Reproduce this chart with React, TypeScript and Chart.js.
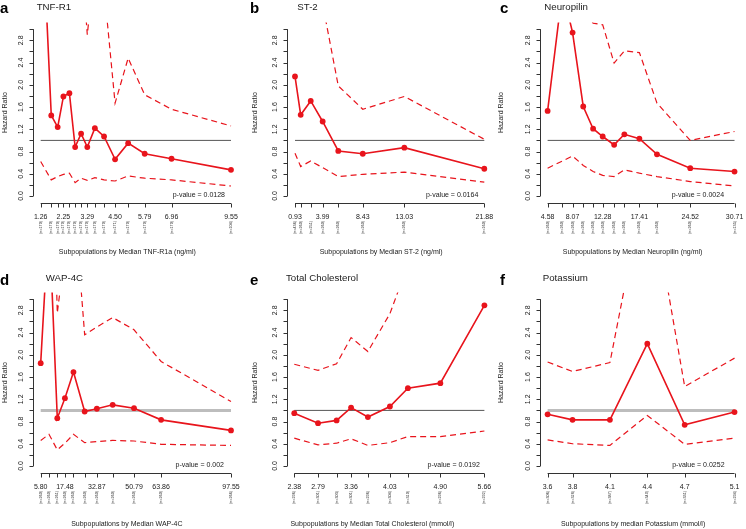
import React, { useEffect, useRef } from 'react';
import { Chart, registerables } from 'chart.js';

Chart.register(...registerables);

// ---------------- DATA ----------------
const yTickValues = [0, 0.2, 0.4, 0.6, 0.8, 1.0, 1.2, 1.4, 1.6, 1.8, 2.0, 2.2, 2.4, 2.6, 2.8, 3.0];
const yTickLabels = ['0.0', '', '0.4', '', '0.8', '', '1.2', '', '1.6', '', '2.0', '', '2.4', '', '2.8', ''];

// a: TNF-R1
const aX = [1.26, 1.72, 2.0, 2.25, 2.51, 2.76, 3.02, 3.29, 3.62, 4.02, 4.5, 5.07, 5.79, 6.96, 9.55];
const aHR = [5.6, 1.45, 1.24, 1.79, 1.85, 0.88, 1.12, 0.88, 1.22, 1.07, 0.66, 0.95, 0.76, 0.67, 0.47];
const aUpper = [20, 8, 6, 7, 9, 6, 4.4, 2.9, 4.2, 3.74, 1.67, 2.48, 1.82, 1.56, 1.26];
const aLower = [0.62, 0.29, 0.35, 0.39, 0.41, 0.24, 0.32, 0.28, 0.33, 0.29, 0.27, 0.36, 0.32, 0.29, 0.18];
const aXLabels = ['1.26', '', '', '2.25', '', '', '', '3.29', '', '', '4.50', '', '5.79', '6.96', '9.55'];
const aN = ['(n=170)', '(n=170)', '(n=170)', '(n=170)', '(n=170)', '(n=170)', '(n=170)', '(n=170)', '(n=170)', '(n=170)', '(n=171)', '(n=170)', '(n=170)', '(n=170)', '(n=104)'];

// b: ST-2
const bX = [0.93, 1.56, 2.67, 3.99, 5.72, 8.43, 13.03, 21.88];
const bHR = [2.15, 1.46, 1.71, 1.34, 0.81, 0.76, 0.87, 0.49];
const bUpper = [8, 6, 7, 3.45, 1.98, 1.56, 1.79, 1.02];
const bLower = [0.77, 0.53, 0.63, 0.51, 0.35, 0.39, 0.43, 0.25];
const bXLabels = ['0.93', '', '', '3.99', '', '8.43', '13.03', '21.88'];
const bN = ['(n=436)', '(n=260)', '(n=251)', '(n=260)', '(n=260)', '(n=260)', '(n=260)', '(n=160)'];

// c: Neuropilin
const cX = [4.58, 6.65, 8.07, 9.56, 10.94, 12.28, 13.88, 15.31, 17.41, 19.87, 24.52, 30.71];
const cHR = [1.53, 3.7, 2.94, 1.61, 1.21, 1.07, 0.92, 1.11, 1.03, 0.75, 0.5, 0.44];
const cUpper = [6, 12, 9, 3.4, 3.11, 3.08, 2.39, 2.61, 2.58, 1.67, 1.0, 1.16];
const cLower = [0.5, 0.63, 0.72, 0.55, 0.44, 0.37, 0.35, 0.47, 0.41, 0.35, 0.26, 0.18];
const cXLabels = ['4.58', '', '8.07', '', '', '12.28', '', '', '17.41', '', '24.52', '30.71'];
const cN = ['(n=260)', '(n=260)', '(n=260)', '(n=260)', '(n=260)', '(n=260)', '(n=260)', '(n=260)', '(n=260)', '(n=260)', '(n=260)', '(n=135)'];

// d: WAP-4C
const dX = [5.8, 9.8, 13.8, 17.48, 21.6, 27.0, 32.87, 40.5, 50.79, 63.86, 97.55];
const dHR = [1.85, 4.5, 0.86, 1.22, 1.69, 0.98, 1.03, 1.1, 1.04, 0.83, 0.64];
const dUpper = [9, 8.1, 2.75, 3.86, 4.93, 2.36, 2.5, 2.67, 2.45, 1.88, 1.16];
const dLower = [0.46, 0.57, 0.29, 0.41, 0.57, 0.42, 0.44, 0.46, 0.45, 0.39, 0.37];
const dXLabels = ['5.80', '', '', '17.48', '', '', '32.87', '', '50.79', '63.86', '97.55'];
const dN = ['(n=260)', '(n=260)', '(n=261)', '(n=260)', '(n=260)', '(n=260)', '(n=260)', '(n=260)', '(n=260)', '(n=260)', '(n=266)'];

// e: Total Cholesterol
const eX = [2.38, 2.79, 3.11, 3.36, 3.65, 4.03, 4.34, 4.9, 5.66];
const eHR = [0.95, 0.77, 0.82, 1.05, 0.88, 1.07, 1.4, 1.49, 2.89];
const eUpper = [1.83, 1.72, 1.84, 2.31, 2.06, 2.74, 3.62, 6, 9];
const eLower = [0.5, 0.38, 0.41, 0.49, 0.37, 0.42, 0.53, 0.53, 0.63];
const eXLabels = ['2.38', '2.79', '', '3.36', '', '4.03', '', '4.90', '5.66'];
const eN = ['(n=296)', '(n=301)', '(n=303)', '(n=301)', '(n=296)', '(n=304)', '(n=310)', '(n=296)', '(n=292)'];

// f: Potassium
const fX = [3.6, 3.8, 4.1, 4.4, 4.7, 5.1];
const fHR = [0.93, 0.83, 0.83, 2.2, 0.74, 0.97];
const fUpper = [1.87, 1.7, 1.86, 5.3, 1.43, 1.94];
const fLower = [0.47, 0.4, 0.37, 0.91, 0.39, 0.5];
const fXLabels = ['3.6', '3.8', '4.1', '4.4', '4.7', '5.1'];
const fN = ['(n=306)', '(n=328)', '(n=387)', '(n=349)', '(n=331)', '(n=294)'];

type PanelDef = {
  letter: string;
  title: string;
  xTitle: string;
  pValue: string;
  x: number[];
  hr: number[];
  upper: number[];
  lower: number[];
  xLabels: string[];
  n: string[];
  lightRef: boolean;
};

const PANELS: PanelDef[] = [
  { letter: 'a', title: 'TNF-R1', xTitle: 'Subpopulations by Median TNF-R1a (ng/ml)', pValue: 'p-value = 0.0128', x: aX, hr: aHR, upper: aUpper, lower: aLower, xLabels: aXLabels, n: aN, lightRef: false },
  { letter: 'b', title: 'ST-2', xTitle: 'Subpopulations by Median ST-2 (ng/ml)', pValue: 'p-value = 0.0164', x: bX, hr: bHR, upper: bUpper, lower: bLower, xLabels: bXLabels, n: bN, lightRef: false },
  { letter: 'c', title: 'Neuropilin', xTitle: 'Subpopulations by Median Neuropilin (ng/ml)', pValue: 'p-value = 0.0024', x: cX, hr: cHR, upper: cUpper, lower: cLower, xLabels: cXLabels, n: cN, lightRef: false },
  { letter: 'd', title: 'WAP-4C', xTitle: 'Subpopulations by Median WAP-4C', pValue: 'p-value = 0.002', x: dX, hr: dHR, upper: dUpper, lower: dLower, xLabels: dXLabels, n: dN, lightRef: true },
  { letter: 'e', title: 'Total Cholesterol', xTitle: 'Subpopulations by Median Total Cholesterol (mmol/l)', pValue: 'p-value = 0.0192', x: eX, hr: eHR, upper: eUpper, lower: eLower, xLabels: eXLabels, n: eN, lightRef: false },
  { letter: 'f', title: 'Potassium', xTitle: 'Subpopulations by median Potassium (mmol/l)', pValue: 'p-value = 0.0252', x: fX, hr: fHR, upper: fUpper, lower: fLower, xLabels: fXLabels, n: fN, lightRef: true },
];

// ---------------- LAYOUT ----------------
type Lay = {
  left: number; top: number; w: number; h: number;
  px0: number; px1: number;
  letterX: number; letterY: number;
  titleX: number; titleY: number;
  xTitleShift: number; xTitleY: number;
  pRight: number;
};

const LAYOUT: Lay[] = [
  { left: 0, top: 0, w: 250, h: 264, px0: 40.7, px1: 231, letterX: 0, letterY: 13, titleX: 36.7, titleY: 10, xTitleShift: -8.5, xTitleY: 254, pRight: -6 },
  { left: 250, top: 0, w: 246, h: 264, px0: 45, px1: 234.3, letterX: 0, letterY: 13, titleX: 47.3, titleY: 10, xTitleShift: -8.5, xTitleY: 254, pRight: -6 },
  { left: 496, top: 0, w: 250, h: 264, px0: 51.7, px1: 240.7, letterX: 4, letterY: 13, titleX: 48.3, titleY: 10, xTitleShift: -8.5, xTitleY: 254, pRight: -10.5 },
  { left: 0, top: 270, w: 250, h: 259, px0: 40.7, px1: 231, letterX: 0, letterY: 14.5, titleX: 45.7, titleY: 10.5, xTitleShift: -9, xTitleY: 256, pRight: -7 },
  { left: 250, top: 270, w: 246, h: 259, px0: 44.3, px1: 235, letterX: 0, letterY: 15, titleX: 36, titleY: 10.5, xTitleShift: -17, xTitleY: 256, pRight: -4.5 },
  { left: 496, top: 270, w: 250, h: 259, px0: 51.7, px1: 240.7, letterX: 4, letterY: 15, titleX: 46.7, titleY: 10.5, xTitleShift: -8, xTitleY: 256, pRight: -10 },
];

const RED = '#e8141c';
const FONT = '"Liberation Sans", Arial, Helvetica, sans-serif';
const Y_ZERO_PX = 196;
const Y_UNIT_PX = 55.6;
const Y_MIN = -0.12;
const Y_MAX = 3.12;

function Panel({ def, lay }: { def: PanelDef; lay: Lay }) {
  const ref = useRef<HTMLCanvasElement | null>(null);

  useEffect(() => {
    const canvas = ref.current;
    if (!canvas) return;
    const xs = def.x;
    const first = xs[0];
    const last = xs[xs.length - 1];
    const range = last - first;
    const pxRange = lay.px1 - lay.px0;
    const areaLeft = lay.px0 - 0.04 * pxRange;
    const areaRight = lay.px1 + 0.04 * pxRange;
    const areaTop = Y_ZERO_PX - Y_MAX * Y_UNIT_PX;
    const areaBottom = Y_ZERO_PX - Y_MIN * Y_UNIT_PX;

    const rAxes = {
      id: 'rAxes',
      afterDraw(chart: any) {
        const ctx: CanvasRenderingContext2D = chart.ctx;
        const sx = chart.scales.x;
        const sy = chart.scales.y;
        const area = chart.chartArea;
        ctx.save();
        ctx.strokeStyle = '#333';
        ctx.fillStyle = '#1a1a1a';
        ctx.lineWidth = 1;

        // y axis
        const ax = Math.round(area.left) + 0.5;
        ctx.beginPath();
        ctx.moveTo(ax, sy.getPixelForValue(yTickValues[0]));
        ctx.lineTo(ax, sy.getPixelForValue(yTickValues[yTickValues.length - 1]));
        yTickValues.forEach((v) => {
          const py = Math.round(sy.getPixelForValue(v)) + 0.5;
          ctx.moveTo(ax, py);
          ctx.lineTo(ax - 4, py);
        });
        ctx.stroke();
        ctx.font = `7px ${FONT}`;
        ctx.textAlign = 'center';
        ctx.textBaseline = 'middle';
        yTickValues.forEach((v, i) => {
          const lab = yTickLabels[i];
          if (!lab) return;
          const py = sy.getPixelForValue(v);
          ctx.save();
          ctx.translate(ax - 12.5, py);
          ctx.rotate(-Math.PI / 2);
          ctx.fillText(lab, 0, 0);
          ctx.restore();
        });

        // y title
        ctx.save();
        ctx.translate(5.5, (area.top + area.bottom) / 2);
        ctx.rotate(-Math.PI / 2);
        ctx.font = `7px ${FONT}`;
        ctx.fillText('Hazard Ratio', 0, 0);
        ctx.restore();

        // x axis
        const by = Math.round(area.bottom) + 0.5;
        ctx.beginPath();
        ctx.moveTo(sx.getPixelForValue(first), by);
        ctx.lineTo(sx.getPixelForValue(last), by);
        xs.forEach((v) => {
          const px = Math.round(sx.getPixelForValue(v)) + 0.5;
          ctx.moveTo(px, by);
          ctx.lineTo(px, by + 4);
        });
        ctx.stroke();
        ctx.font = `7px ${FONT}`;
        ctx.textAlign = 'center';
        ctx.textBaseline = 'alphabetic';
        xs.forEach((v, i) => {
          const lab = def.xLabels[i];
          if (!lab) return;
          ctx.fillText(lab, sx.getPixelForValue(v), by + 15);
        });

        // n labels
        ctx.font = `3.7px ${FONT}`;
        ctx.textBaseline = 'middle';
        xs.forEach((v, i) => {
          ctx.save();
          ctx.translate(sx.getPixelForValue(v), 227.5);
          ctx.rotate(-Math.PI / 2);
          ctx.fillText(def.n[i], 0, 0);
          ctx.restore();
        });

        // x title
        ctx.font = `7px ${FONT}`;
        ctx.textBaseline = 'alphabetic';
        const cx = (sx.getPixelForValue(first) + sx.getPixelForValue(last)) / 2 + lay.xTitleShift;
        ctx.fillText(def.xTitle, cx, lay.xTitleY);

        // p-value
        ctx.textAlign = 'right';
        ctx.fillText(def.pValue, sx.getPixelForValue(last) + lay.pRight, sy.getPixelForValue(0) + 0.5);

        // panel title and letter
        ctx.textAlign = 'left';
        ctx.font = `9.7px ${FONT}`;
        ctx.fillText(def.title, lay.titleX, lay.titleY);
        ctx.font = `bold 15px ${FONT}`;
        ctx.fillStyle = '#000';
        ctx.fillText(def.letter, lay.letterX, lay.letterY);
        ctx.restore();
      },
    };

    const pts = (ys: number[]) => xs.map((x, i) => ({ x, y: ys[i] }));

    const chart = new Chart(canvas, {
      type: 'line',
      data: {
        datasets: [
          {
            data: pts(def.hr),
            borderColor: RED,
            backgroundColor: RED,
            borderWidth: 1.6,
            pointRadius: 2.9,
            pointBackgroundColor: RED,
            pointBorderColor: RED,
            pointBorderWidth: 0,
            tension: 0,
            clip: 0,
          },
          {
            data: pts(def.upper),
            borderColor: RED,
            borderWidth: 1.2,
            borderDash: [6, 4],
            pointRadius: 0,
            tension: 0,
            clip: 0,
          },
          {
            data: pts(def.lower),
            borderColor: RED,
            borderWidth: 1.2,
            borderDash: [6, 4],
            pointRadius: 0,
            tension: 0,
            clip: 0,
          },
          {
            data: [{ x: first, y: 1 }, { x: last, y: 1 }],
            borderColor: def.lightRef ? '#bdbdbd' : '#555',
            borderWidth: def.lightRef ? 3 : 1,
            pointRadius: 0,
            clip: 0,
          },
        ] as any,
      },
      options: {
        animation: false,
        responsive: false,
        maintainAspectRatio: false,
        devicePixelRatio: 1,
        events: [],
        layout: {
          padding: {
            left: areaLeft,
            right: lay.w - areaRight,
            top: areaTop,
            bottom: lay.h - areaBottom,
          },
        },
        plugins: {
          legend: { display: false },
          tooltip: { enabled: false },
          title: { display: false },
        },
        scales: {
          x: { type: 'linear', display: false, min: first - 0.04 * range, max: last + 0.04 * range },
          y: { type: 'linear', display: false, min: Y_MIN, max: Y_MAX },
        },
      } as any,
      plugins: [rAxes],
    });
    return () => chart.destroy();
  }, [def, lay]);

  return (
    <canvas
      ref={ref}
      width={lay.w}
      height={lay.h}
      style={{ position: 'absolute', left: lay.left, top: lay.top, width: lay.w, height: lay.h }}
    />
  );
}

export default function App() {
  useEffect(() => {
    document.body.style.margin = '0';
  }, []);
  return (
    <div style={{ position: 'fixed', left: 0, top: 0, width: 746, height: 529, overflow: 'hidden', background: '#fff' }}>
      {PANELS.map((p, i) => (
        <Panel key={p.letter} def={p} lay={LAYOUT[i]} />
      ))}
    </div>
  );
}
